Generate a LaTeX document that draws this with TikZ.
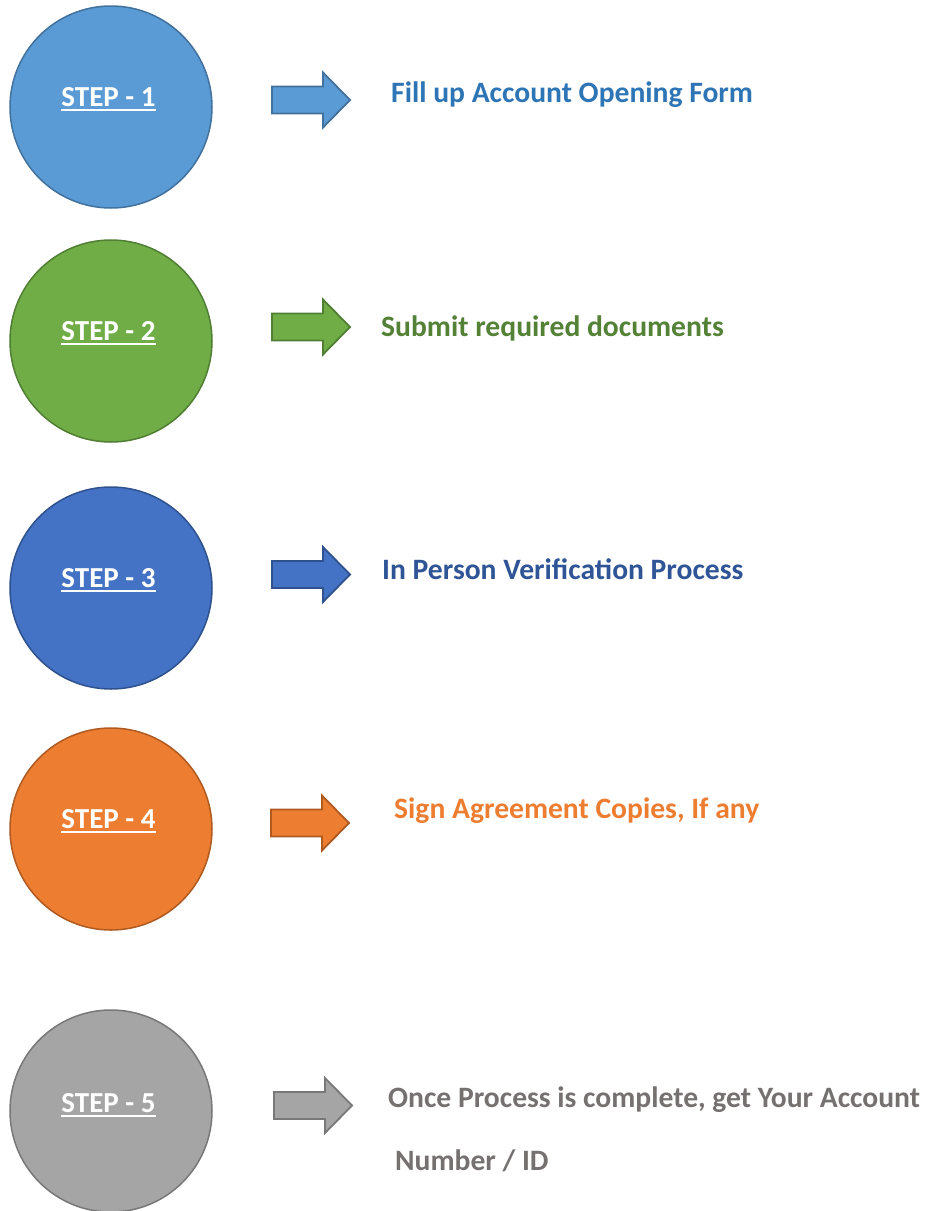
\documentclass[tikz,border=0pt]{standalone}
\usepackage{fontspec}
\setmainfont{Carlito}
\definecolor{c1fill}{HTML}{5B9BD5}\definecolor{c1line}{HTML}{41719C}\definecolor{c1text}{HTML}{2E75B6}
\definecolor{c2fill}{HTML}{70AD47}\definecolor{c2line}{HTML}{507E32}\definecolor{c2text}{HTML}{538135}
\definecolor{c3fill}{HTML}{4472C4}\definecolor{c3line}{HTML}{2F528F}\definecolor{c3text}{HTML}{2F5597}
\definecolor{c4fill}{HTML}{ED7D31}\definecolor{c4line}{HTML}{AE5A21}\definecolor{c4text}{HTML}{ED7D31}
\definecolor{c5fill}{HTML}{A5A5A5}\definecolor{c5line}{HTML}{787878}\definecolor{c5text}{HTML}{767171}
\newcommand\blkarrow[4]{%
  \draw[barrow, draw=#4, fill=#3] ({#1},{#2-13.5}) -- ({#1+51},{#2-13.5}) -- ({#1+51},{#2-27.5}) -- ({#1+78},{#2}) -- ({#1+51},{#2+27.5}) -- ({#1+51},{#2+13.5}) -- ({#1},{#2+13.5}) -- cycle;}
\newcommand\steplabel[4]{%
  \node[steplbl] (#1) at (108.5,#2) {#3};
  \draw[white, line width=2pt] ([yshift=-3.5pt]#1.south west) -- ([yshift=-3.5pt]#1.south east);}
\tikzset{
  stepcirc/.style={circle, minimum size=202pt, inner sep=0pt, line width=1.5pt},
  steplbl/.style={font=\fontsize{29}{34}\selectfont\bfseries, text=white, inner sep=0pt, anchor=base},
  desc/.style={font=\fontsize{29.6}{34}\selectfont\bfseries, inner sep=0pt, anchor=base west},
  barrow/.style={line width=1.8pt, line join=miter}
}
\begin{document}
\begin{tikzpicture}[x=1pt,y=-1pt]
\useasboundingbox (0,0) rectangle (926,1211);
% circles
\node[stepcirc, fill=c1fill, draw=c1line] (s1) at (111,107) {};
\node[stepcirc, fill=c2fill, draw=c2line] (s2) at (111,341) {};
\node[stepcirc, fill=c3fill, draw=c3line] (s3) at (111,588) {};
\node[stepcirc, fill=c4fill, draw=c4line] (s4) at (111,829) {};
\node[stepcirc, fill=c5fill, draw=c5line] (s5) at (111,1111) {};
\steplabel{l1}{106}{STEP - 1}{}
\steplabel{l2}{340}{STEP - 2}{}
\steplabel{l3}{587}{STEP - 3}{}
\steplabel{l4}{828}{STEP - 4}{}
\steplabel{l5}{1112}{STEP - 5}{}
% arrows
\blkarrow{272}{100}{c1fill}{c1line}
\blkarrow{272}{327}{c2fill}{c2line}
\blkarrow{272}{574.5}{c3fill}{c3line}
\blkarrow{271}{823}{c4fill}{c4line}
\blkarrow{274}{1105.5}{c5fill}{c5line}
% texts
\node[desc, text=c1text] (t1) at (391,102) {Fill up Account Opening Form};
\node[desc, text=c2text] (t2) at (381,336) {Submit required documents};
\node[desc, text=c3text] (t3) at (382,579) {In Person Verification Process};
\node[desc, text=c4text] (t4) at (394,818) {Sign Agreement Copies, If any};
\node[desc, text=c5text] (t5) at (388,1107) {Once Process is complete, get Your Account};
\node[desc, text=c5text] (t6) at (395,1170) {Number / ID};
\end{tikzpicture}
\end{document}
